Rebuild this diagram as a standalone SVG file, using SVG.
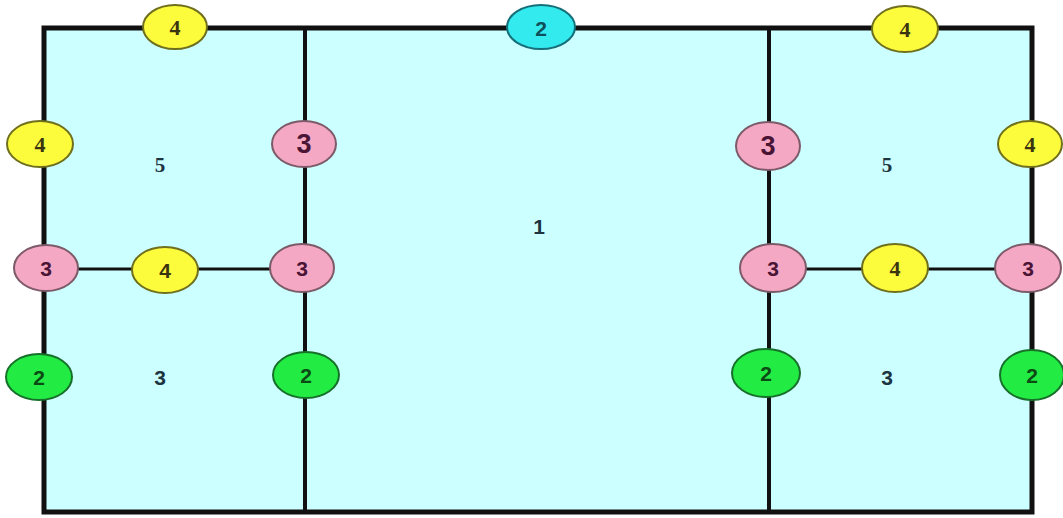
<svg xmlns="http://www.w3.org/2000/svg" width="1063" height="518" viewBox="0 0 1063 518">
<style>
.bg{fill:#ccffff}
.edge{stroke:#111;fill:none}
.y{fill:#fcfc3c;stroke:#6f6f1e;stroke-width:2}
.p{fill:#f4a8c4;stroke:#7d5a68;stroke-width:2}
.g{fill:#22ec44;stroke:#17702a;stroke-width:2}
.c{fill:#33eaee;stroke:#16707a;stroke-width:2}
text{font-family:"Liberation Sans",Arial,sans-serif;font-weight:bold;text-anchor:middle;dominant-baseline:central}
.serif{font-family:"Liberation Serif","Times New Roman",serif}
.ty{fill:#3a3410;font-size:22px}
.tp{fill:#4a1434;font-size:21px}
.tg{fill:#0c4a14;font-size:21px}
.tc{fill:#10505c;font-size:21px}
.lab{fill:#1c3440;font-size:21px}
</style>
<rect class="bg" x="44" y="28" width="988" height="484"/>
<g id="connectors">
<rect class="edge" x="44" y="28" width="988" height="484" stroke-width="5"/>
<line class="edge" x1="305" y1="28" x2="305" y2="512" stroke-width="4"/>
<line class="edge" x1="769" y1="28" x2="769" y2="512" stroke-width="4"/>
<line class="edge" x1="44" y1="269" x2="305" y2="269" stroke-width="3"/>
<line class="edge" x1="769" y1="269" x2="1032" y2="269" stroke-width="3"/>
</g>
<g id="region-left-top"><text class="lab serif" x="160" y="165">5</text></g>
<g id="region-left-bottom"><text class="lab" x="160" y="377">3</text></g>
<g id="region-center"><text class="lab" x="539" y="226">1</text></g>
<g id="region-right-top"><text class="lab serif" x="887" y="165">5</text></g>
<g id="region-right-bottom"><text class="lab" x="887" y="377">3</text></g>
<g id="n-top-left"><ellipse class="y" cx="175" cy="27" rx="32" ry="22"/><text class="ty serif" x="175" y="27">4</text></g>
<g id="n-top-center"><ellipse class="c" cx="541" cy="27" rx="34" ry="22"/><text class="tc" x="541" y="28">2</text></g>
<g id="n-top-right"><ellipse class="y" cx="905" cy="29" rx="33" ry="23"/><text class="ty serif" x="905" y="29">4</text></g>
<g id="n-left-upper"><ellipse class="y" cx="40" cy="144" rx="33" ry="23"/><text class="ty serif" x="40" y="144">4</text></g>
<g id="n-mid-left-upper"><ellipse class="p" cx="304" cy="144" rx="32" ry="23"/><text class="tp" x="304" y="144" style="font-size:27px">3</text></g>
<g id="n-mid-right-upper"><ellipse class="p" cx="768" cy="146" rx="32" ry="24"/><text class="tp" x="768" y="146" style="font-size:27px">3</text></g>
<g id="n-right-upper"><ellipse class="y" cx="1030" cy="144" rx="32" ry="23"/><text class="ty serif" x="1030" y="144">4</text></g>
<g id="n-left-mid"><ellipse class="p" cx="46" cy="268" rx="32" ry="23"/><text class="tp" x="46" y="268">3</text></g>
<g id="n-left-bar"><ellipse class="y" cx="165" cy="270" rx="33" ry="23"/><text class="ty" x="165" y="270" style="font-size:21px">4</text></g>
<g id="n-mid-left-mid"><ellipse class="p" cx="302" cy="268" rx="32" ry="24"/><text class="tp" x="302" y="268">3</text></g>
<g id="n-mid-right-mid"><ellipse class="p" cx="773" cy="268" rx="33" ry="24"/><text class="tp" x="773" y="268">3</text></g>
<g id="n-right-bar"><ellipse class="y" cx="895" cy="268" rx="33" ry="24"/><text class="ty serif" x="895" y="268">4</text></g>
<g id="n-right-mid"><ellipse class="p" cx="1028" cy="268" rx="33" ry="24"/><text class="tp" x="1028" y="268">3</text></g>
<g id="n-left-low"><ellipse class="g" cx="39" cy="377" rx="33" ry="23"/><text class="tg" x="39" y="377">2</text></g>
<g id="n-mid-left-low"><ellipse class="g" cx="306" cy="375" rx="33" ry="23"/><text class="tg" x="306" y="375">2</text></g>
<g id="n-mid-right-low"><ellipse class="g" cx="766" cy="373" rx="34" ry="24"/><text class="tg" x="766" y="373">2</text></g>
<g id="n-right-low"><ellipse class="g" cx="1032" cy="375" rx="32" ry="25"/><text class="tg" x="1032" y="375">2</text></g>
</svg>
